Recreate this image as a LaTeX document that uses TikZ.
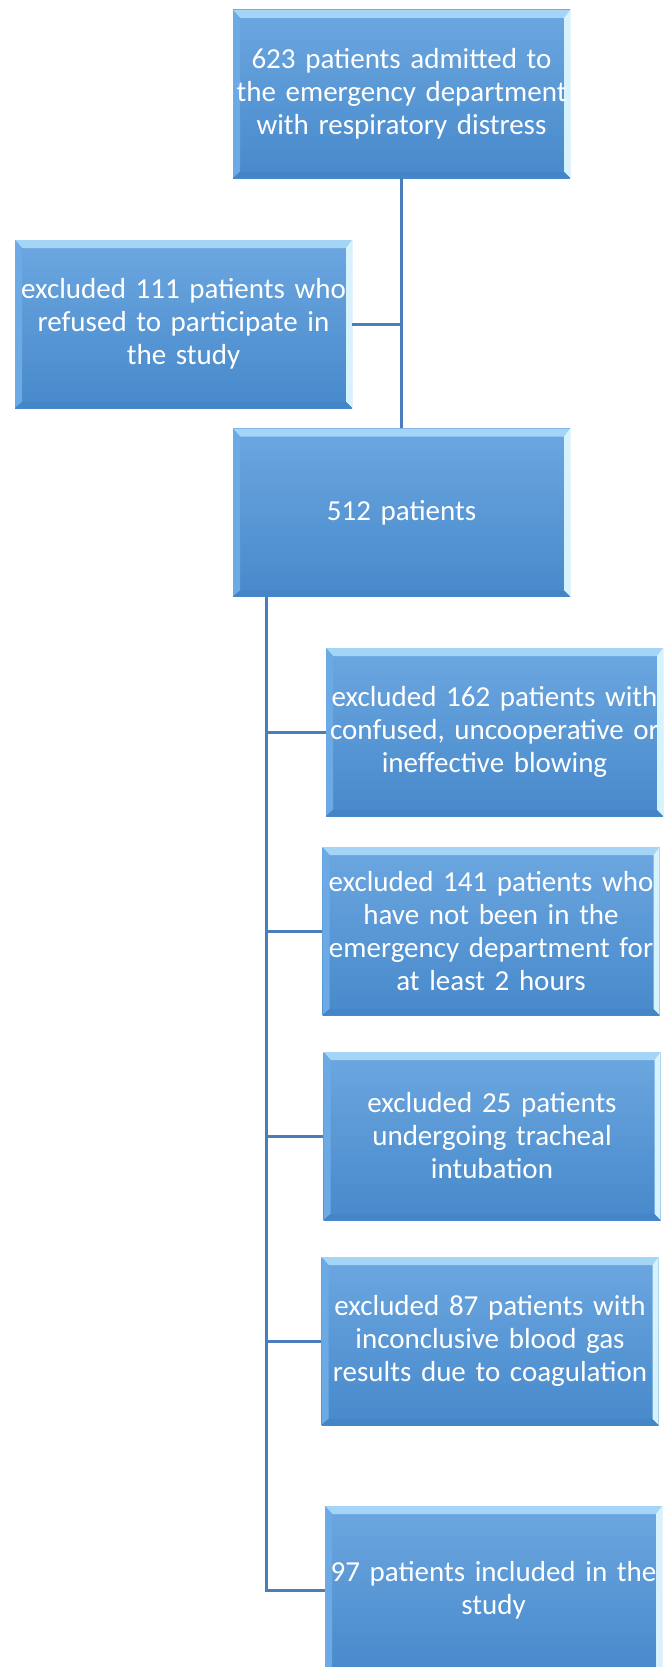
\documentclass[tikz,border=0pt]{standalone}
\usepackage{fontspec}
\setmainfont{Carlito}
\definecolor{boxtop}{HTML}{6CA7E0}
\definecolor{boxbot}{HTML}{4789CB}
\definecolor{bevtop}{HTML}{A4D4F6}
\definecolor{bevright}{HTML}{D6F3FD}
\definecolor{bevleft}{HTML}{6BAAE5}
\definecolor{bevbot}{HTML}{4485C7}
\definecolor{connc}{HTML}{4A7EBB}
\tikzset{
  flowbox/.style={rectangle, minimum width=337pt, minimum height=168pt, inner sep=0pt,
    text width=337pt, align=center, text=white,
    font=\fontsize{29pt}{33pt}\selectfont,
    top color=boxtop, bottom color=boxbot, draw=none,
    path picture={
      \fill[bevtop] (path picture bounding box.north west) -- (path picture bounding box.north east)
        -- ([shift={(-6pt,-8pt)}]path picture bounding box.north east)
        -- ([shift={(7pt,-8pt)}]path picture bounding box.north west) -- cycle;
      \fill[bevright] (path picture bounding box.north east) -- (path picture bounding box.south east)
        -- ([shift={(-6pt,6pt)}]path picture bounding box.south east)
        -- ([shift={(-6pt,-8pt)}]path picture bounding box.north east) -- cycle;
      \fill[bevleft] (path picture bounding box.north west) -- (path picture bounding box.south west)
        -- ([shift={(7pt,6pt)}]path picture bounding box.south west)
        -- ([shift={(7pt,-8pt)}]path picture bounding box.north west) -- cycle;
      \fill[bevbot] (path picture bounding box.south west) -- (path picture bounding box.south east)
        -- ([shift={(-6pt,6pt)}]path picture bounding box.south east)
        -- ([shift={(7pt,6pt)}]path picture bounding box.south west) -- cycle;
    }},
  conn/.style={draw=connc, line width=3pt}
}
\begin{document}
\begin{tikzpicture}[x=1pt,y=-1pt]
\useasboundingbox[fill=white] (0,0) rectangle (670,1667);
\node[flowbox] (b1) at (401.5,94) {623 patients admitted to\\the emergency department\\with respiratory distress};
\node[flowbox] (b2) at (183.5,324) {excluded 111 patients who\\refused to participate in\\the study};
\node[flowbox] (b3) at (401.5,512.5) {512 patients};
\node[flowbox] (b4) at (494.5,732) {excluded 162 patients with\\confused, uncooperative or\\ineffective blowing};
\node[flowbox] (b5) at (491,931) {excluded 141 patients who\\have not been in the\\emergency department for\\at least 2 hours};
\node[flowbox] (b6) at (492,1136) {excluded 25 patients\\undergoing tracheal\\intubation};
\node[flowbox] (b7) at (490,1341) {excluded 87 patients with\\inconclusive blood gas\\results due to coagulation};
\node[flowbox] (b8) at (493.5,1590) {97 patients included in the\\study};
\coordinate (trunk) at ([xshift=34pt]b3.south west);
\draw[conn] (b1.south) -- (b3.north);
\draw[conn] (b2.east) -- (b2.east -| b1.south);
\draw[conn] (trunk) |- (b8.west);
\draw[conn] (b4.west) -- (b4.west -| trunk);
\draw[conn] (b5.west) -- (b5.west -| trunk);
\draw[conn] (b6.west) -- (b6.west -| trunk);
\draw[conn] (b7.west) -- (b7.west -| trunk);
\end{tikzpicture}
\end{document}
